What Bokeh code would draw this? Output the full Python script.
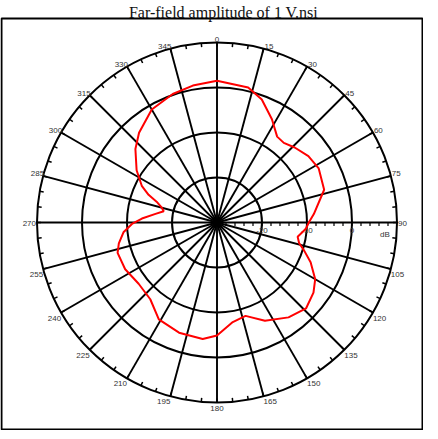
import numpy as np
from bokeh.plotting import figure
from bokeh.models import Range1d, ColumnDataSource
from bokeh.core.properties import value
from bokeh.embed import file_html
from bokeh.resources import INLINE

# ---------------- data ----------------
title_text = "Far-field amplitude of 1 V.nsi"

angle_deg = [0, 13, 20, 28, 35, 40, 46, 54, 62, 73, 85, 90, 94, 100, 104, 108,
             113, 120, 126, 134, 143, 154, 163, 171, 180, 187, 199, 211, 221,
             232, 243, 253, 258, 264, 269, 273, 278, 282, 285, 289, 292, 296,
             303, 312, 319, 330, 341, 350]
amp_db = [1.5, 0.8, -0.9, -4.0, -6.7, -6.9, -6.0, -4.9, -4.4, -5.1, -8.4, -9.6,
          -10.2, -11.8, -11.2, -9.6, -7.4, -4.8, -3.5, -2.5, -3.6, -5.7, -8.3,
          -7.6, -4.9, -3.9, -4.1, -4.9, -7.4, -7.9, -7.1, -6.9, -7.7, -9.1,
          -11.1, -13.3, -16.2, -17.9, -17.3, -15.8, -13.6, -11.4, -8.7, -5.6,
          -3.6, -1.0, 0.2, 0.9]

angle_ticks = list(range(0, 360, 15))
angle_labels = [str(a) for a in angle_ticks]
minor_angle_ticks = list(range(0, 360, 5))
db_min, db_max = -30, 10
db_circles = [-20, -10, 0, 10]
db_label_values = [-20, -10, 0]
db_labels = ["-20", "-10", "0"]
db_minor_ticks = list(range(-28, 10, 2))
unit_label = "dB"
unit_label_pos = 7.3

# ---------------- layout ----------------
PX = 4.5            # pixels per dB
W, H = 423, 430     # canvas (page x 8..431, y 8..438)
cx, cy = 216.5, 222.0   # polar centre in canvas pixels (from left / top)
R = db_max - db_min


def sx(px):
    return (px - cx) / PX


def sy(py):
    return (cy - py) / PX


p = figure(width=W, height=H, output_backend="svg", toolbar_location=None,
           x_range=Range1d(sx(0), sx(W)), y_range=Range1d(sy(H), sy(0)),
           x_axis_type=None, y_axis_type=None,
           min_border_left=0, min_border_right=0, min_border_top=0,
           min_border_bottom=0)
p.grid.visible = False
p.outline_line_color = None
p.background_fill_color = "white"
p.border_fill_color = "white"

# frame box
p.quad(left=[sx(1)], right=[sx(422)], top=[sy(18)], bottom=[sy(429)],
       fill_color=None, line_color="black", line_width=2)

# title
p.text(x=[sx(223)], y=[sy(11.5)], text=[title_text], text_align="center",
       text_baseline="alphabetic", text_font=value("Liberation Serif"),
       text_font_size="16px", text_color="#111111")

# circles
p.circle(x=[0] * len(db_circles), y=[0] * len(db_circles),
         radius=[d - db_min for d in db_circles],
         fill_color=None, line_color="black", line_width=2)

# spokes
th = np.radians(angle_ticks)
p.segment(x0=np.zeros(len(th)), y0=np.zeros(len(th)),
          x1=R * np.sin(th), y1=R * np.cos(th),
          line_color="black", line_width=1.9)

# outer ticks
tm = np.radians(minor_angle_ticks)
rin = R - 4 / PX
p.segment(x0=rin * np.sin(tm), y0=rin * np.cos(tm),
          x1=R * np.sin(tm), y1=R * np.cos(tm),
          line_color="black", line_width=1.5)

# radial ticks along 90 deg spoke
rt = np.array(db_minor_ticks) - db_min
p.segment(x0=rt, y0=np.zeros(len(rt)), x1=rt, y1=np.full(len(rt), -3.5 / PX),
          line_color="black", line_width=1.2)

# angle labels
aligns, bases, xo, yo = [], [], [], []
for a in angle_ticks:
    if a == 0:
        aligns.append("center"); bases.append("alphabetic"); xo.append(0); yo.append(-3)
    elif a < 90:
        aligns.append("left"); bases.append("alphabetic"); xo.append(1); yo.append(-2)
    elif a == 90:
        aligns.append("left"); bases.append("middle"); xo.append(1); yo.append(1)
    elif a < 180:
        aligns.append("left"); bases.append("top"); xo.append(0); yo.append(3)
    elif a == 180:
        aligns.append("center"); bases.append("top"); xo.append(0); yo.append(3)
    elif a < 270:
        aligns.append("right"); bases.append("top"); xo.append(0); yo.append(3)
    elif a == 270:
        aligns.append("right"); bases.append("middle"); xo.append(-1); yo.append(1)
    else:
        aligns.append("right"); bases.append("alphabetic"); xo.append(1); yo.append(-2)

lab_src = ColumnDataSource(dict(x=R * np.sin(th), y=R * np.cos(th), text=angle_labels,
                                align=aligns, base=bases, xo=xo, yo=yo))
p.text(x="x", y="y", text="text", source=lab_src, text_align="align",
       text_baseline="base", x_offset="xo", y_offset="yo",
       text_font=value("Liberation Sans"), text_font_size="8px", text_color="#333333")

# dB labels
p.text(x=[d - db_min for d in db_label_values], y=[0] * len(db_label_values),
       text=db_labels, text_align="center", text_baseline="top", y_offset=5,
       text_font=value("Liberation Sans"), text_font_size="8px", text_color="#333333")
p.text(x=[unit_label_pos - db_min], y=[0], text=[unit_label], text_align="center",
       text_baseline="top", y_offset=7,
       text_font=value("Liberation Sans"), text_font_size="8px", text_color="#333333")

# pattern
ang = np.radians(angle_deg + [angle_deg[0]])
rr = np.array(amp_db + [amp_db[0]]) - db_min
p.line(x=rr * np.sin(ang), y=rr * np.cos(ang), line_color="#ff0000", line_width=2)

open("out.html", "w").write(file_html(p, INLINE))
